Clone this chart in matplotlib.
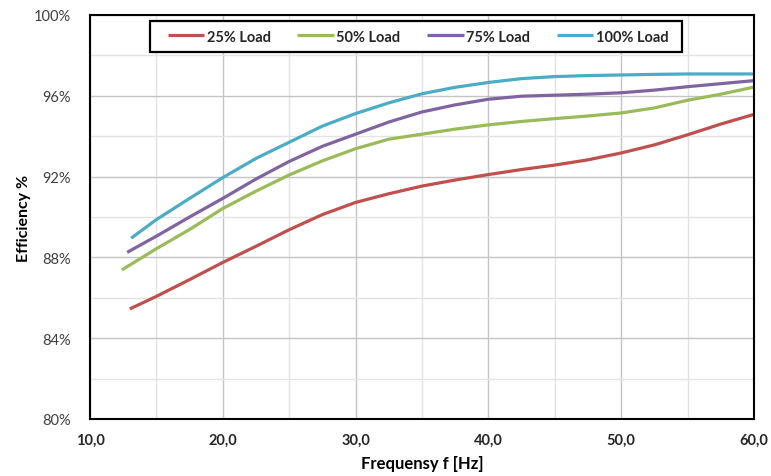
import matplotlib
matplotlib.use('Agg')
import matplotlib.pyplot as plt
from matplotlib.patches import Rectangle
from matplotlib.ticker import MultipleLocator, FuncFormatter

plt.rcParams['font.family'] = ['Lato', 'DejaVu Sans']

# values (frequency in Hz, efficiency in %)
steps = [15, 17.5, 20, 22.5, 25, 27.5, 30, 32.5, 35, 37.5, 40, 42.5, 45, 47.5, 50, 52.5, 55, 57.5, 60]

freq_25 = [13.0] + steps
eff_25 = [85.45, 86.07, 86.9, 87.75, 88.55, 89.37, 90.12, 90.72, 91.15, 91.53, 91.83, 92.1, 92.35,
          92.57, 92.83, 93.17, 93.57, 94.07, 94.6, 95.08]

freq_50 = [12.4] + steps
eff_50 = [87.38, 88.43, 89.38, 90.42, 91.28, 92.08, 92.78, 93.38, 93.85, 94.1, 94.35, 94.56, 94.73,
          94.87, 95.0, 95.15, 95.4, 95.78, 96.08, 96.43]

freq_75 = [12.8] + steps
eff_75 = [88.25, 89.05, 90.0, 90.92, 91.88, 92.75, 93.5, 94.1, 94.7, 95.2, 95.55, 95.83, 95.98,
          96.03, 96.08, 96.15, 96.28, 96.45, 96.6, 96.75]

freq_100 = [13.1] + steps
eff_100 = [88.95, 89.87, 90.92, 91.95, 92.9, 93.7, 94.5, 95.12, 95.65, 96.1, 96.42, 96.66, 96.85,
           96.95, 97.0, 97.03, 97.06, 97.08, 97.08, 97.08]

labels = ['25% Load', '50% Load', '75% Load', '100% Load']
colors = ['#C0504D', '#9BBB59', '#8064A2', '#4BACC6']

fig = plt.figure(figsize=(7.71, 4.77), dpi=100)
ax = fig.add_axes([0.1167, 0.1195, 0.8613, 0.847])

series = [(freq_25, eff_25), (freq_50, eff_50), (freq_75, eff_75), (freq_100, eff_100)]
for (f, e), lab, c in zip(series, labels, colors):
    ax.plot(f, e, color=c, lw=2.3, label=lab, solid_capstyle='butt', solid_joinstyle='round')

ax.set_xlim(10, 60)
ax.set_ylim(80, 100)
ax.xaxis.set_major_locator(MultipleLocator(10))
ax.xaxis.set_minor_locator(MultipleLocator(5))
ax.yaxis.set_major_locator(MultipleLocator(4))
ax.yaxis.set_minor_locator(MultipleLocator(2))
ax.xaxis.set_major_formatter(FuncFormatter(lambda v, p: ('%.1f' % v).replace('.', ',')))
ax.yaxis.set_major_formatter(FuncFormatter(lambda v, p: '%d%%' % v))

ax.grid(which='major', color='#C4C4C4', lw=1.0)
ax.grid(which='minor', color='#E3E3E3', lw=1.0)
ax.set_axisbelow(True)
ax.tick_params(which='both', length=0)
ax.tick_params(axis='x', pad=10, labelsize=10.5, colors='#262626')
ax.tick_params(axis='y', pad=14, labelsize=10.5, colors='#404040')
for t in ax.get_xticklabels():
    t.set_fontweight('bold')
for s in ax.spines.values():
    s.set_color('black')
    s.set_linewidth(1.5)

ax.set_xlabel('Frequensy f [Hz]', fontsize=12, fontweight='bold', labelpad=6)
ax.set_ylabel('Efficiency %', fontsize=11.5, fontweight='bold', labelpad=2)

# legend box drawn separately: wider side padding than matplotlib's frame gives
box = Rectangle((150 / 771, 1 - 53 / 477), 532 / 771, 31 / 477, transform=fig.transFigure,
                facecolor='white', edgecolor='black', lw=1.6, zorder=5, clip_on=False)
ax.add_patch(box)
leg = ax.legend(ncol=4, loc='center', bbox_to_anchor=(418 / 771, 1 - 37.5 / 477),
                bbox_transform=fig.transFigure, frameon=False,
                handlelength=2.5, handletextpad=0.15, columnspacing=1.85,
                prop={'size': 10.5, 'weight': 'bold'})
leg.set_zorder(6)
for t in leg.get_texts():
    t.set_color('#262626')

fig.savefig('out.png', dpi=100)
